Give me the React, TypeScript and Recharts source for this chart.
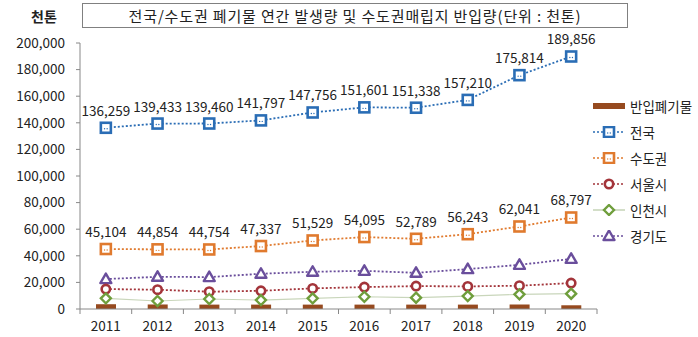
import React from "react";
import {
  ComposedChart,
  Bar,
  Line,
  XAxis,
  YAxis,
  LabelList,
} from "recharts";

const years = ["2011", "2012", "2013", "2014", "2015", "2016", "2017", "2018", "2019", "2020"];
const landfill = [3600, 3400, 3300, 3300, 3300, 3300, 3300, 3300, 3300, 2800];
const national = [136259, 139433, 139460, 141797, 147756, 151601, 151338, 157210, 175814, 189856];
const capital = [45104, 44854, 44754, 47337, 51529, 54095, 52789, 56243, 62041, 68797];
const seoul = [15000, 14500, 13000, 13700, 15500, 16500, 17200, 17000, 17500, 19500];
const incheon = [8000, 6000, 7500, 6700, 8000, 9200, 8500, 9700, 11000, 11500];
const gyeonggi = [22500, 24200, 24000, 26500, 28000, 28700, 27200, 30000, 33200, 37700];
const yTicks = [0, 20000, 40000, 60000, 80000, 100000, 120000, 140000, 160000, 180000, 200000];

const titleText = "전국/수도권 폐기물 연간 발생량 및 수도권매립지 반입량(단위 : 천톤)";
const unitText = "천톤";

const data = years.map((y, i) => ({
  year: y,
  landfill: landfill[i],
  national: national[i],
  capital: capital[i],
  seoul: seoul[i],
  incheon: incheon[i],
  gyeonggi: gyeonggi[i],
}));

const FONT = '"Noto Sans CJK KR", "Noto Sans", sans-serif';
const C = {
  bar: "#964a1f",
  national: "#2a6db5",
  capital: "#e07a2e",
  seoul: "#a3343a",
  incheon: "#6f9e3c",
  incheonLine: "#c9d6bb",
  gyeonggi: "#6a4e9c",
};

const fmt = (v: number) => v.toLocaleString("en-US");

const SquareDot = (color: string) => (p: any) => {
  const { cx, cy } = p;
  if (cx == null || cy == null) return null;
  return (
    <g>
      <rect x={cx - 5} y={cy - 5} width={10} height={10} fill="#fff" stroke={color} strokeWidth={2.6} />
      <circle cx={cx - 1.3} cy={cy + 1} r={0.7} fill={color} />
      <circle cx={cx + 1.3} cy={cy + 1} r={0.7} fill={color} />
    </g>
  );
};
const CircleDot = (color: string) => (p: any) => {
  const { cx, cy } = p;
  if (cx == null || cy == null) return null;
  return <circle cx={cx} cy={cy} r={4.2} fill="#fff" stroke={color} strokeWidth={2.6} />;
};
const DiamondDot = (color: string) => (p: any) => {
  const { cx, cy } = p;
  if (cx == null || cy == null) return null;
  return (
    <path
      d={`M${cx},${cy - 5} L${cx + 5},${cy} L${cx},${cy + 5} L${cx - 5},${cy} Z`}
      fill="#fff"
      stroke={color}
      strokeWidth={2.4}
    />
  );
};
const TriDot = (color: string) => (p: any) => {
  const { cx, cy } = p;
  if (cx == null || cy == null) return null;
  return (
    <path
      d={`M${cx},${cy - 5.5} L${cx + 5.5},${cy + 4} L${cx - 5.5},${cy + 4} Z`}
      fill="#fff"
      stroke={color}
      strokeWidth={2.4}
      strokeLinejoin="round"
    />
  );
};

const XTick = (props: any) => {
  const { x, y, payload, width, visibleTicksCount, index } = props;
  const band = width / visibleTicksCount;
  return (
    <g>
      <line x1={x - band / 2} y1={y} x2={x - band / 2} y2={y + 5} stroke="#888" />
      {index === visibleTicksCount - 1 && (
        <line x1={x + band / 2} y1={y} x2={x + band / 2} y2={y + 5} stroke="#888" />
      )}
      <text x={x} y={y + 22} textAnchor="middle" fontSize={13.5} fill="#222" fontFamily={FONT}>
        {payload.value}
      </text>
    </g>
  );
};

const legendItems = [
  { name: "반입폐기물", kind: "bar", color: C.bar },
  { name: "전국", kind: "square", color: C.national },
  { name: "수도권", kind: "square", color: C.capital },
  { name: "서울시", kind: "circle", color: C.seoul },
  { name: "인천시", kind: "diamond", color: C.incheon },
  { name: "경기도", kind: "tri", color: C.gyeonggi },
];

const LegendIcon = ({ kind, color }: { kind: string; color: string }) => {
  if (kind === "bar") {
    return (
      <svg width={34} height={12}>
        <rect x={1} y={3} width={32} height={6} fill={color} />
      </svg>
    );
  }
  const cx = 17,
    cy = 6;
  let marker: any = null;
  if (kind === "square") marker = SquareDot(color)({ cx, cy });
  if (kind === "circle") marker = CircleDot(color)({ cx, cy });
  if (kind === "diamond") marker = DiamondDot(color)({ cx, cy });
  if (kind === "tri") marker = TriDot(color)({ cx, cy });
  const lineColor = kind === "diamond" ? C.incheonLine : color;
  return (
    <svg width={34} height={12}>
      <line
        x1={1}
        y1={cy}
        x2={33}
        y2={cy}
        stroke={lineColor}
        strokeWidth={1.6}
        strokeDasharray={kind === "diamond" ? undefined : "2 2"}
      />
      {marker}
    </svg>
  );
};

export default function App() {
  return (
    <div
      style={{
        position: "absolute",
        left: 0,
        top: 0,
        width: 698,
        height: 337,
        background: "#fff",
        fontFamily: FONT,
      }}
    >
      <div
        style={{
          position: "absolute",
          left: 82,
          top: 3,
          width: 546,
          height: 25,
          border: "1px solid #808080",
          boxSizing: "border-box",
          display: "flex",
          alignItems: "center",
          justifyContent: "center",
          fontSize: 15,
          color: "#222",
          whiteSpace: "nowrap",
          letterSpacing: 0.85,
        }}
      >
        {titleText}
      </div>
      <div
        style={{
          position: "absolute",
          left: 31,
          top: 6,
          fontSize: 14,
          fontWeight: 700,
          color: "#222",
        }}
      >
        {unitText}
      </div>
      <ComposedChart
        width={698}
        height={337}
        data={data}
        margin={{ top: 43, right: 101, left: 0, bottom: 0 }}
      >
        <XAxis
          dataKey="year"
          height={28}
          axisLine={{ stroke: "#888" }}
          tickLine={false}
          tickSize={0}
          tickMargin={0}
          interval={0}
          tick={<XTick />}
        />
        <YAxis
          width={80}
          domain={[0, 200000]}
          ticks={yTicks}
          interval={0}
          tickFormatter={fmt}
          axisLine={{ stroke: "#888" }}
          tickLine={{ stroke: "#888" }}
          tickSize={4}
          tickMargin={11}
          tick={{ fontSize: 13.5, fill: "#222", fontFamily: FONT }}
        />
        <Bar dataKey="landfill" fill={C.bar} barSize={20} isAnimationActive={false} />
        <Line
          dataKey="national"
          stroke={C.national}
          strokeWidth={1.8}
          strokeDasharray="2 2"
          dot={SquareDot(C.national)}
          activeDot={false}
          isAnimationActive={false}
        >
          <LabelList
            dataKey="national"
            position="top"
            offset={12}
            formatter={fmt}
            style={{ fontSize: 13.5, fill: "#222", fontFamily: FONT }}
          />
        </Line>
        <Line
          dataKey="capital"
          stroke={C.capital}
          strokeWidth={1.8}
          strokeDasharray="2 2"
          dot={SquareDot(C.capital)}
          activeDot={false}
          isAnimationActive={false}
        >
          <LabelList
            dataKey="capital"
            position="top"
            offset={12}
            formatter={fmt}
            style={{ fontSize: 13.5, fill: "#222", fontFamily: FONT }}
          />
        </Line>
        <Line
          dataKey="gyeonggi"
          stroke={C.gyeonggi}
          strokeWidth={1.8}
          strokeDasharray="2 2"
          dot={TriDot(C.gyeonggi)}
          activeDot={false}
          isAnimationActive={false}
        />
        <Line
          dataKey="seoul"
          stroke={C.seoul}
          strokeWidth={1.8}
          strokeDasharray="2 2"
          dot={CircleDot(C.seoul)}
          activeDot={false}
          isAnimationActive={false}
        />
        <Line
          dataKey="incheon"
          stroke={C.incheonLine}
          strokeWidth={1.2}
          dot={DiamondDot(C.incheon)}
          activeDot={false}
          isAnimationActive={false}
        />
      </ComposedChart>
      <div style={{ position: "absolute", left: 592, top: 93 }}>
        {legendItems.map((it) => (
          <div
            key={it.name}
            style={{
              display: "flex",
              alignItems: "center",
              height: 26,
              fontSize: 13.5,
              color: "#222",
            }}
          >
            <LegendIcon kind={it.kind} color={it.color} />
            <span style={{ marginLeft: 4 }}>{it.name}</span>
          </div>
        ))}
      </div>
    </div>
  );
}
